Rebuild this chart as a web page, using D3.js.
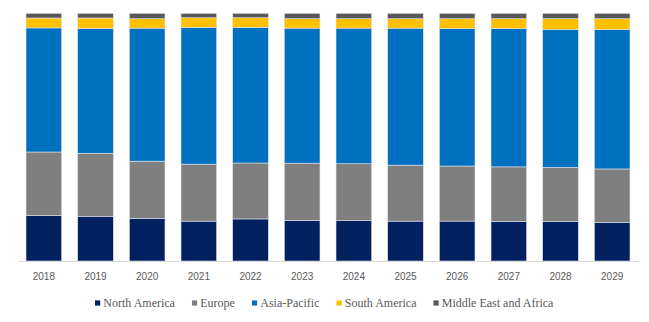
<!DOCTYPE html>
<html>
<head>
<meta charset="utf-8">
<script src="https://cdn.jsdelivr.net/npm/d3@7"></script>
<style>
  body { margin: 0; background: #fff; }
</style>
</head>
<body>
<svg width="649" height="322"></svg>
<script>
const years = ["2018","2019","2020","2021","2022","2023","2024","2025","2026","2027","2028","2029"];
const regions = ["North America","Europe","Asia-Pacific","South America","Middle East and Africa"];
const colors = ["#002060","#7f7f7f","#0070c0","#ffc000","#595959"];

// share of market per year (%)
const northAmerica = [18.4,17.9,17.2,16.1,17.0,16.4,16.3,16.1,16.1,15.9,15.9,15.5];
const europe       = [25.6,25.6,23.1,23.0,22.6,23.1,23.0,22.6,22.2,22.1,21.9,21.7];
const asiaPacific  = [50.1,50.3,53.7,55.2,54.8,54.5,54.8,55.3,55.4,55.8,55.7,56.3];
const southAmerica = [4.0,4.3,3.8,3.9,3.9,3.8,3.8,3.8,4.0,4.0,4.3,4.4];
const middleEast   = [1.9,1.9,2.2,1.8,1.8,2.2,2.2,2.2,2.2,2.2,2.2,2.2];

const series = [northAmerica, europe, asiaPacific, southAmerica, middleEast];
const font = "'Liberation Serif', 'Times New Roman', serif";

const data = years.map((y, i) => {
  const row = { year: y };
  regions.forEach((r, j) => row[r] = series[j][i]);
  return row;
});

const svg = d3.select("svg");

const x = d3.scaleBand()
    .domain(years)
    .range([18, 638])
    .paddingInner(0.31)
    .paddingOuter(0.155);

const y = d3.scaleLinear()
    .domain([0, 1])
    .range([261, 13.3]);

const stacked = d3.stack()
    .keys(regions)
    .offset(d3.stackOffsetExpand)(data);

svg.append("g")
  .selectAll("g")
  .data(stacked)
  .enter()
  .append("g")
  .attr("fill", (d, i) => colors[i])
  .selectAll("rect")
  .data(d => d)
  .enter()
  .append("rect")
  .attr("x", d => x(d.data.year))
  .attr("y", d => y(d[1]))
  .attr("width", x.bandwidth())
  .attr("height", d => y(d[0]) - y(d[1]))
  .attr("stroke", "#dfe3ea")
  .attr("stroke-width", 0.6);

const xAxis = svg.append("g")
    .attr("transform", "translate(0,261)")
    .attr("font-family", font)
    .attr("font-size", 12)
    .call(d3.axisBottom(x).tickSize(0).tickPadding(10));

xAxis.select(".domain").attr("stroke", "#d9d9d9");
xAxis.selectAll("text")
    .attr("fill", "#595959")
    .attr("dy", 0)
    .attr("y", 19);

// legend
const legend = svg.append("g").attr("transform", "translate(0,303)");
let lx = 95;
regions.forEach((r, i) => {
  const item = legend.append("g").attr("transform", `translate(${lx},0)`);
  item.append("rect")
    .attr("x", 0).attr("y", -2.6)
    .attr("width", 5.2).attr("height", 5.2)
    .attr("fill", colors[i]);
  const t = item.append("text")
    .attr("x", 8.3).attr("y", 3.8)
    .attr("fill", "#595959")
    .attr("font-family", font)
    .attr("font-size", 12)
    .text(r);
  lx += 8.3 + t.node().getComputedTextLength() + 17;
});
</script>
</body>
</html>
